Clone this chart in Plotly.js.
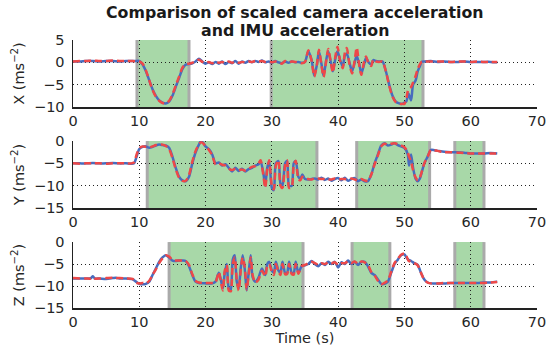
<!DOCTYPE html>
<html><head><meta charset="utf-8">
<script src="https://cdn.plot.ly/plotly-3.0.1.min.js"></script>
<style>html,body{margin:0;padding:0;background:#fff;}#chart{width:547px;height:350px;}</style>
</head><body><div id="chart"></div>
<script>
// ---- X axis data ----
var tX = [0,1,2,3,4,5,6,7,8,9,9.5,
  10,10.5,11,11.5,12,12.5,13,13.5,14,14.5,15,15.5,16,16.5,17,17.5,
  18,18.5,19,19.5,20,20.5,21,21.5,22,22.5,23,23.5,24,24.5,25,25.5,26,26.5,27,27.5,28,28.5,29,29.5,30,30.5,31,31.5,32,32.5,33,33.5,34,34.5,
  35,35.5,36,36.4,36.8,37.1,37.5,37.8,38.2,38.5,38.9,39.2,39.6,39.9,40.3,40.7,41,41.3,41.7,42.1,42.5,42.8,43.2,43.5,43.9,44.2,44.6,45,45.3,45.7,46.2,46.7,
  47.2,47.7,48.2,48.7,49.2,49.7,50,50.3,50.6,51,51.3,51.7,52,52.3,52.6,53,
  54,55,56,57,58,59,60,61,62,63,64];
var xImu = [0.2,0.2,0.3,0.3,0.2,0.3,0.3,0.2,0.3,0.3,0.3,
  0.3,-0.5,-2,-4,-6,-7.5,-8.5,-9,-9.2,-8.8,-7.5,-5.5,-3.5,-1.5,-0.5,-0.4,
  -0.2,0.2,0.8,0.2,-0.3,0,-0.4,0.1,-0.3,0.2,-0.4,0.1,-0.2,0.3,-0.3,0.2,-0.1,0.3,0,0.3,0.1,0.4,0,0.2,-0.1,0.3,0,-0.2,0.2,-0.1,0.2,0,0.1,-0.1,
  0.1,2.5,0.5,-3,-0.5,2.5,-0.5,-3,0.5,2.5,0,-2,1,2.5,0.5,-1,1.5,2,0,-2,0,1.5,-0.5,-2.5,-0.5,1,0,-0.5,0.5,0.3,0.2,0.2,
  -2,-5,-7.5,-8.8,-9.2,-9.3,-9,-8.7,-7,-8.5,-5,-4,-2,-1,0.1,0.2,
  0.3,0.1,0.2,0.1,0.1,0.2,0.1,0.1,0.1,0.1,0];
var xCam = [0.2,0.3,0.3,0.4,0.3,0.3,0.4,0.3,0.3,0.3,0.2,
  0.2,-0.3,-1.8,-4,-6.2,-7.7,-8.6,-9.1,-9.2,-8.6,-7.2,-5.2,-3.2,-1.2,-0.4,-0.3,
  -0.1,0.3,0.6,0.1,-0.2,0.1,-0.2,0.2,-0.1,0.1,-0.2,0.2,-0.1,0.2,-0.1,0.1,0,0.2,0.1,0.3,0.2,0.3,0.1,0.2,0,0.2,0.1,-0.3,0.3,0,0.2,0.1,0,-0.2,
  0.1,2.7,0.3,-3.2,-0.5,2.8,-0.8,-3.3,0.3,3,0,-2.3,1.5,3.5,0.3,-1.3,2,3.2,-0.3,-2.5,0.5,3.3,-0.8,-2.8,0,1.3,-0.3,-0.8,0.7,0.2,0.1,0.2,
  -2,-5.2,-7.7,-8.9,-9.3,-9.3,-9.3,-8,-6,-5.5,-4.5,-3,-1.5,-0.5,0.1,0.2,
  0.2,0.2,0.2,0.1,0.2,0.2,0.1,0.2,0.1,0.1,0.1];

// ---- Y axis data ----
var tY = [0,1,2,3,4,5,6,7,8,8.8,
  9.2,9.6,10,10.5,11,11.5,12,12.5,13,13.5,14,14.5,15,15.5,16,16.5,17,17.5,18,18.5,19,19.3,19.7,20,20.5,21,21.5,
  22,22.5,23,23.5,24,24.5,25,25.5,26,26.5,27,27.5,28,
  28.3,28.7,29,29.3,29.6,30,30.3,30.6,31,31.3,31.6,32,32.3,32.6,33,33.3,33.6,34,34.3,34.6,
  35,35.5,36,36.5,37,37.5,38,38.5,39,39.5,40,40.5,41,41.5,42,42.5,43,43.5,44,44.5,
  45,45.5,46,46.5,47,47.5,48,48.5,49,49.5,50,50.5,50.7,51,51.3,51.7,52,52.3,52.7,53,53.5,54,
  55,56,57,58,59,60,61,62,63,64];
var yImu = [-5,-5,-5,-4.9,-5,-5,-4.9,-5,-5,-5.1,
  -5,-3.5,-1.8,-1.3,-1.2,-1.5,-1.3,-1,-0.8,-0.9,-1,-1.5,-3.5,-6,-8,-8.8,-9,-8,-5,-2.5,-0.8,0,-0.5,-1.2,-1.8,-3,-5,
  -4.8,-5.5,-5.2,-6,-6.8,-6,-6.7,-6.2,-6.8,-6.3,-6,-5.5,-5.2,
  -4.5,-7,-10,-6,-4.5,-10.5,-11,-5,-4.5,-9.5,-10,-5,-4.5,-10,-10,-5,-4.5,-8,-8.5,-7.5,
  -8.5,-8.6,-8.5,-8.4,-8.6,-8.2,-8.7,-8.4,-8.9,-8.5,-8.3,-8.8,-8.2,-8.9,-8.5,-8.3,-9,-8.6,-9,-9,
  -7.5,-5,-3,-1,-0.5,-1,-0.8,-0.5,-0.9,-1.2,-1.5,-3,-5.5,-3,-6,-8.5,-9,-8.5,-6.5,-5,-3.5,-2,
  -2.2,-2.4,-2.5,-2.5,-2.6,-2.8,-2.8,-2.8,-2.7,-2.8];
var yCam = [-5,-5.1,-5,-5,-5,-5.1,-5,-5,-5,-5,
  -4.8,-3,-1.6,-1.2,-1.3,-1.4,-1.2,-0.9,-0.8,-0.8,-1.1,-1.8,-3.8,-6.3,-8.2,-8.9,-8.9,-7.6,-4.6,-2.2,-0.7,-0.3,-0.6,-1.2,-2,-3.2,-5.2,
  -5,-5.3,-5.5,-6.2,-6.5,-6.2,-6.5,-6.4,-6.6,-6.2,-5.8,-5.6,-5,
  -4.3,-7.5,-10.5,-6.5,-4.3,-10,-10.8,-5.5,-4.3,-10,-10.5,-5.5,-4.3,-10.5,-10.3,-5.5,-4.4,-8.5,-8.8,-8,
  -8.4,-8.5,-8.6,-8.3,-8.4,-8.5,-8.5,-8.6,-8.6,-8.4,-8.6,-8.5,-8.5,-8.6,-8.4,-8.6,-8.8,-8.5,-8.8,-8.9,
  -7.5,-5.2,-3.2,-1.2,-0.6,-0.8,-0.6,-0.5,-0.7,-1,-1.4,-2.5,-3.5,-4.5,-6.5,-8.2,-8.8,-8.3,-6.5,-5,-3.5,-2,
  -2.2,-2.5,-2.5,-2.6,-2.7,-2.8,-2.8,-2.8,-2.8,-2.8];

// ---- Z axis data ----
var tZ = [0,1,2,2.7,3,3.3,4,5,6,6.5,7,8,9,
  9.5,10,10.5,11,11.5,12,12.5,13,13.5,14,14.5,15,15.5,16,16.5,17,17.5,18,18.5,19,20,21,21.5,
  22,22.3,22.6,22.9,23.2,23.5,23.8,24.1,24.4,24.7,25,25.3,25.6,25.9,26.2,26.5,26.8,27.1,27.5,28,28.5,29,29.3,29.6,30,30.3,30.6,31,31.3,31.6,32,32.3,32.6,33,33.3,33.6,34,34.5,
  35,35.5,36,36.5,37,37.5,38,38.5,39,39.5,40,40.5,41,41.5,42,42.5,43,43.5,44,44.5,
  45,45.5,46,46.5,47,47.5,48,48.5,49,49.5,50,50.3,50.6,51,51.5,52,52.5,53,53.5,54,
  55,56,57,58,59,60,61,62,63,64];
var zImu = [-8.3,-8.3,-8.3,-8.2,-7.8,-8.3,-8.3,-8.4,-8.2,-8.1,-8.3,-8.3,-8.5,
  -9,-9.5,-9.6,-9.5,-9,-7.5,-6,-4.5,-3.5,-3,-3.5,-4.2,-4.3,-4.2,-4.2,-4.3,-5.5,-7.5,-9,-9.3,-9.4,-9.4,-9,
  -7,-8.5,-10.5,-7,-5,-10.5,-11,-4,-3,-9,-10.5,-6,-3,-6,-11,-7,-3,-8,-9,-8,-6,-7.5,-5,-4.5,-6.5,-7,-4.5,-6.5,-7,-4.5,-7,-7,-4.5,-7,-7,-4.5,-7,-5.5,
  -5.3,-5,-4.3,-5,-5.5,-4.8,-5.2,-4.5,-5,-4.5,-5.8,-4.6,-5,-4.2,-5,-4.5,-5.2,-4.5,-4.5,-5.5,
  -7,-7.5,-8.5,-9.5,-9.5,-9,-7,-5,-4,-3,-2.8,-3.5,-4,-4.3,-4.8,-5.2,-7,-8.5,-9.2,-9.4,
  -9.4,-9.4,-9.3,-9.3,-9.3,-9.3,-9.3,-9.2,-9.2,-9];
var zCam = [-8.2,-8.3,-8.3,-8.3,-8,-8.3,-8.3,-8.2,-8.1,-8.2,-8.2,-8.3,-8.4,
  -9.2,-9.4,-9.3,-9.4,-8.8,-7.5,-6.2,-4.8,-3.7,-3,-3.3,-4,-4.2,-4.2,-4.2,-4.3,-5.2,-7.3,-8.8,-9.2,-9.3,-9.3,-9.2,
  -6.8,-9,-11,-6.5,-5.2,-11,-11.2,-5,-3.5,-8.5,-11,-6.5,-3.5,-5.5,-10.8,-7.5,-3.5,-7.5,-9.2,-8.5,-6.5,-7.8,-5.5,-5,-6.8,-7.5,-5,-6.8,-7.5,-5,-7.3,-7.3,-5,-7.3,-7.4,-5,-7.2,-5.5,
  -5.2,-4.8,-4.5,-4.8,-5.2,-4.8,-5,-4.6,-4.8,-4.6,-5.2,-4.8,-4.8,-4.4,-4.8,-4.4,-5,-4.4,-4.6,-5.2,
  -6.8,-7.6,-8.8,-9.6,-9.3,-8.7,-6.8,-4.8,-3.8,-2.9,-2.6,-3.2,-4.2,-4.5,-4.8,-5.3,-7,-8.6,-9.2,-9.4,
  -9.4,-9.3,-9.3,-9.3,-9.3,-9.3,-9.3,-9.3,-9.2,-9.1];

// ---- shaded spans ----
var spanX = [[9.65,17.5],[29.9,52.8]];
var spanY = [[11.2,36.8],[42.8,53.8],[57.6,62.0]];
var spanZ = [[14.5,34.7],[42.1,47.8],[57.6,62.0]];

var titleLines = ['<b>Comparison of scaled camera acceleration</b>','<b>and IMU acceleration</b>'];
var yTitles = ['X (ms<sup>\u22122</sup>)','Y (ms<sup>\u22122</sup>)','Z (ms<sup>\u22122</sup>)'];
var xTitle = 'Time (s)';
var yRanges = [[-10,5],[-15,0],[-15,0]];

var BLUE = 'rgb(72,108,190)', RED = 'rgb(238,72,72)';
var sets = [[tX,xImu,xCam],[tY,yImu,yCam],[tZ,zImu,zCam]];
var traces = [];
sets.forEach(function(s,i){
  var sx = i===0?'x':'x'+(i+1), sy = i===0?'y':'y'+(i+1);
  traces.push({x:s[0],y:s[1],xaxis:sx,yaxis:sy,mode:'lines',line:{color:BLUE,width:2.5,shape:'spline',smoothing:0.7},hoverinfo:'skip'});
  traces.push({x:s[0],y:s[2],xaxis:sx,yaxis:sy,mode:'lines',line:{color:RED,width:2.5,dash:'7px,4px',shape:'spline',smoothing:0.7},hoverinfo:'skip'});
});

var shapes = [];
[spanX,spanY,spanZ].forEach(function(sp,i){
  var xr = i===0?'x':'x'+(i+1), yr = (i===0?'y':'y'+(i+1))+' domain';
  sp.forEach(function(s){
    shapes.push({type:'rect',layer:'below',xref:xr,yref:yr,x0:s[0],x1:s[1],y0:0,y1:1,fillcolor:'rgb(168,216,168)',line:{width:0}});
    shapes.push({type:'line',layer:'below',xref:xr,yref:yr,x0:s[0],x1:s[0],y0:0,y1:1,line:{color:'rgb(170,170,170)',width:3}});
    shapes.push({type:'line',layer:'below',xref:xr,yref:yr,x0:s[1],x1:s[1],y0:0,y1:1,line:{color:'rgb(170,170,170)',width:3}});
  });
});

var font = {family:'DejaVu Sans, sans-serif',size:14.5,color:'#262626'};
function xax(anchor, title){
  var a = {domain:[0,1],anchor:anchor,range:[0,70],dtick:10,tick0:0,showgrid:true,gridcolor:'#222',griddash:'1px,3px',gridwidth:1,
    zeroline:false,showline:true,linecolor:'#222',linewidth:1.5,ticks:'',ticklabelstandoff:0,tickfont:font,fixedrange:true};
  if(title) a.title = {text:title,font:font,standoff:0};
  return a;
}
function yax(dom, anchor, i){
  return {domain:dom,anchor:anchor,range:yRanges[i],dtick:5,showgrid:true,gridcolor:'#222',griddash:'1px,3px',gridwidth:1,
    zeroline:false,showline:true,linecolor:'#222',linewidth:1.5,ticks:'',ticklabelstandoff:4,tickfont:font,
    title:{text:yTitles[i],font:font,standoff:6},fixedrange:true};
}
var titleFont = {family:'DejaVu Sans, sans-serif',size:15.8,color:'#1a1a1a'};
var layout = {
  width:547,height:350,margin:{l:73,r:10,t:40,b:42},
  paper_bgcolor:'#fff',plot_bgcolor:'#fff',showlegend:false,
  xaxis:xax('y'),
  xaxis2:xax('y2'),
  xaxis3:xax('y3',xTitle),
  yaxis:yax([0.75,1],'x',0),
  yaxis2:yax([0.373,0.623],'x2',1),
  yaxis3:yax([0,0.246],'x3',2),
  shapes:shapes,
  annotations:[
    {text:titleLines[0],xref:'paper',yref:'paper',x:(295-73)/464,y:1,xanchor:'center',yanchor:'middle',yshift:28,showarrow:false,font:titleFont},
    {text:titleLines[1],xref:'paper',yref:'paper',x:(295-73)/464,y:1,xanchor:'center',yanchor:'middle',yshift:10,showarrow:false,font:titleFont}
  ]
};
Plotly.newPlot('chart',traces,layout,{staticPlot:true,displayModeBar:false});
</script></body></html>
